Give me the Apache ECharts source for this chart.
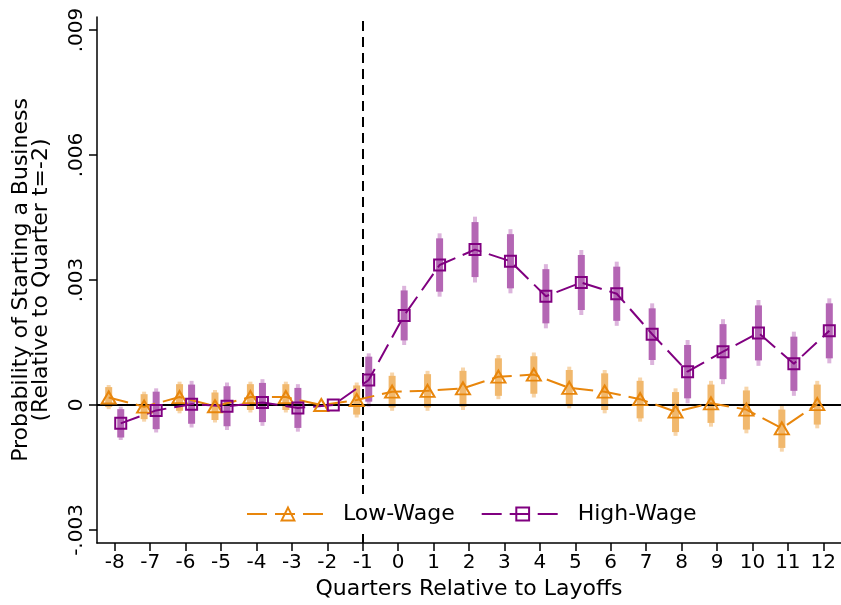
<!DOCTYPE html>
<html>
<head>
<meta charset="utf-8">
<script src="https://cdn.jsdelivr.net/npm/echarts@6/dist/echarts.min.js"></script>
<style>
  html, body { margin: 0; padding: 0; background: #fff; }
  #chart { width: 841px; height: 605px; }
</style>
</head>
<body>
<div id="chart"></div>
<script>
// quarters relative to layoffs (t = -2 is the omitted reference quarter)
const quarters = [-8, -7, -6, -5, -4, -3, -2, -1, 0, 1, 2, 3, 4, 5, 6, 7, 8, 9, 10, 11, 12]
const xTicks = quarters
const yTicks = [-0.003, 0, 0.003, 0.006, 0.009]

// low-wage workers: point estimate, 95% and 90% confidence bounds
const lowWage = [0.00018, -0.00004, 0.00019, -0.00003, 0.00019, 0.00019, 0, 0.00012, 0.00032, 0.00034, 0.0004, 0.00068, 0.00073, 0.00041, 0.00032, 0.00014, -0.00016, 0.00004, -0.00011, -0.00056, 0.00002]
const lowLo95 = [-0.0001, -0.0004, -0.0002, -0.00042, -0.00018, -0.00018, null, -0.0003, -0.00014, -0.00014, -0.00012, 0.00014, 0.00018, -0.00008, -0.0002, -0.0004, -0.00074, -0.00052, -0.00068, -0.00112, -0.00056]
const lowHi95 = [0.00048, 0.00032, 0.00056, 0.00036, 0.00056, 0.00056, null, 0.00054, 0.00078, 0.00082, 0.0009, 0.0012, 0.00126, 0.00092, 0.00084, 0.00066, 0.0004, 0.00058, 0.00044, -0.00002, 0.00058]
const lowLo90 = [-0.00005, -0.00034, -0.00014, -0.00036, -0.00012, -0.00012, null, -0.00023, -0.00006, -0.00006, -0.00004, 0.00022, 0.00027, 0, -0.00012, -0.00032, -0.00065, -0.00043, -0.00059, -0.00103, -0.00047]
const lowHi90 = [0.00043, 0.00026, 0.0005, 0.0003, 0.0005, 0.0005, null, 0.00047, 0.0007, 0.00074, 0.00082, 0.00112, 0.00117, 0.00084, 0.00076, 0.00058, 0.00031, 0.00049, 0.00035, -0.00011, 0.00049]

// high-wage workers
const highWage = [-0.00044, -0.00013, 0.00002, -0.00003, 0.00006, -0.00007, 0, 0.0006, 0.00215, 0.00336, 0.00373, 0.00345, 0.00261, 0.00294, 0.00267, 0.0017, 0.0008, 0.00128, 0.00173, 0.00099, 0.00178]
const highLo95 = [-0.00084, -0.00066, -0.00054, -0.0006, -0.0005, -0.00064, null, -0.00004, 0.00144, 0.0026, 0.00294, 0.00268, 0.00184, 0.00216, 0.0019, 0.00096, 0.00004, 0.0005, 0.00094, 0.00022, 0.001]
const highHi95 = [-0.00004, 0.0004, 0.00058, 0.00054, 0.00062, 0.0005, null, 0.00124, 0.00286, 0.00412, 0.00452, 0.00422, 0.00338, 0.00372, 0.00344, 0.00244, 0.00156, 0.00206, 0.00252, 0.00176, 0.00256]
const highLo90 = [-0.00078, -0.00058, -0.00045, -0.00051, -0.00041, -0.00055, null, 0.00008, 0.00155, 0.00272, 0.00307, 0.0028, 0.00196, 0.00228, 0.00202, 0.00108, 0.00016, 0.00062, 0.00107, 0.00034, 0.00112]
const highHi90 = [-0.0001, 0.00032, 0.00049, 0.00045, 0.00053, 0.00041, null, 0.00116, 0.00275, 0.004, 0.00439, 0.0041, 0.00326, 0.0036, 0.00332, 0.00232, 0.00144, 0.00194, 0.00239, 0.00164, 0.00244]

const FONT = 'DejaVu Sans'
const ORANGE = '#e8860c'
const PURPLE = '#800080'
const X_SHIFT = 0.17

const fmtY = (v) => {
  if (Math.abs(v) < 1e-12) return '0'
  const s = Math.abs(v).toFixed(3).replace(/^0/, '')
  return v < 0 ? '-' + s : s
}

const pointData = (est, shift) => quarters.map((q, i) => [q + shift, est[i]])

const ciData = (lo95, hi95, lo90, hi90, shift) =>
  quarters
    .map((q, i) => [q + shift, lo95[i], hi95[i], lo90[i], hi90[i]])
    .filter((d) => d[1] !== null)

const renderCI = (color95, color90) => (params, api) => {
  const x = api.value(0)
  const p95lo = api.coord([x, api.value(1)])
  const p95hi = api.coord([x, api.value(2)])
  const p90lo = api.coord([x, api.value(3)])
  const p90hi = api.coord([x, api.value(4)])
  return {
    type: 'group',
    children: [
      {
        type: 'rect',
        shape: { x: p95lo[0] - 2, y: p95hi[1], width: 4, height: p95lo[1] - p95hi[1] },
        style: { fill: color95 },
      },
      {
        type: 'rect',
        shape: { x: p90lo[0] - 3.5, y: p90hi[1], width: 7, height: p90lo[1] - p90hi[1] },
        style: { fill: color90 },
      },
    ],
  }
}

const lineSeries = (name, est, shift, color, symbol, symbolSize) => ({
  name,
  type: 'line',
  data: pointData(est, shift),
  symbol,
  symbolSize,
  z: 5,
  lineStyle: { color, width: 2, type: [20, 8] },
  itemStyle: { color: 'rgba(0,0,0,0)', borderColor: color, borderWidth: 2 },
})

const chart = echarts.init(document.getElementById('chart'))

chart.setOption({
  animation: false,
  backgroundColor: '#fff',
  textStyle: { fontFamily: FONT, color: '#000' },
  grid: { left: 97, right: 0, top: 17, bottom: 62 },
  legend: {
    data: ['Low-Wage', 'High-Wage'],
    left: 236,
    top: 494,
    orient: 'horizontal',
    backgroundColor: '#fff',
    padding: [9, 10],
    itemWidth: 82,
    itemHeight: 16,
    itemGap: 26,
    textStyle: { fontFamily: FONT, fontSize: 22, color: '#000', padding: [0, 0, 0, 9] },
    z: 10,
  },
  xAxis: {
    type: 'value',
    min: -8.5,
    max: 12.5,
    name: 'Quarters Relative to Layoffs',
    nameLocation: 'middle',
    nameGap: 34,
    nameTextStyle: { fontFamily: FONT, fontSize: 22, color: '#000' },
    splitLine: { show: false },
    axisLine: { onZero: false, lineStyle: { color: '#000', width: 1.5 } },
    axisTick: { customValues: xTicks, length: 8, lineStyle: { color: '#000', width: 1.5 } },
    axisLabel: {
      customValues: xTicks,
      margin: 10,
      fontFamily: FONT,
      fontSize: 20,
      color: '#000',
    },
  },
  yAxis: {
    type: 'value',
    min: -0.003312,
    max: 0.009312,
    name: 'Probability of Starting a Business\n(Relative to Quarter t=-2)',
    nameLocation: 'middle',
    nameRotate: 90,
    nameGap: 46,
    nameTextStyle: { fontFamily: FONT, fontSize: 22, color: '#000', lineHeight: 20 },
    splitLine: { show: false },
    axisLine: { show: true, onZero: false, lineStyle: { color: '#000', width: 1.5 } },
    axisTick: { show: true, customValues: yTicks, length: 8, lineStyle: { color: '#000', width: 1.5 } },
    axisLabel: {
      customValues: yTicks,
      rotate: 90,
      margin: 10,
      fontFamily: FONT,
      fontSize: 20,
      color: '#000',
      formatter: fmtY,
    },
  },
  series: [
    {
      name: 'Low-Wage CI',
      type: 'custom',
      z: 2,
      renderItem: renderCI('#f7d5aa', '#f1b86d'),
      data: ciData(lowLo95, lowHi95, lowLo90, lowHi90, -X_SHIFT),
      encode: { x: 0, y: [1, 2, 3, 4] },
    },
    {
      name: 'High-Wage CI',
      type: 'custom',
      z: 2,
      renderItem: renderCI('#dcb4dc', '#b466b4'),
      data: ciData(highLo95, highHi95, highLo90, highHi90, X_SHIFT),
      encode: { x: 0, y: [1, 2, 3, 4] },
    },
    {
      name: 'refs',
      type: 'line',
      data: [],
      z: 3,
      markLine: {
        silent: true,
        symbol: 'none',
        label: { show: false },
        data: [
          { yAxis: 0, lineStyle: { color: '#000', width: 2, type: 'solid' } },
          { xAxis: -1, lineStyle: { color: '#000', width: 2, type: [10, 6] } },
        ],
      },
    },
    lineSeries('Low-Wage', lowWage, -X_SHIFT, ORANGE, 'triangle', [14, 12]),
    lineSeries('High-Wage', highWage, X_SHIFT, PURPLE, 'rect', 11),
  ],
})
</script>
</body>
</html>
